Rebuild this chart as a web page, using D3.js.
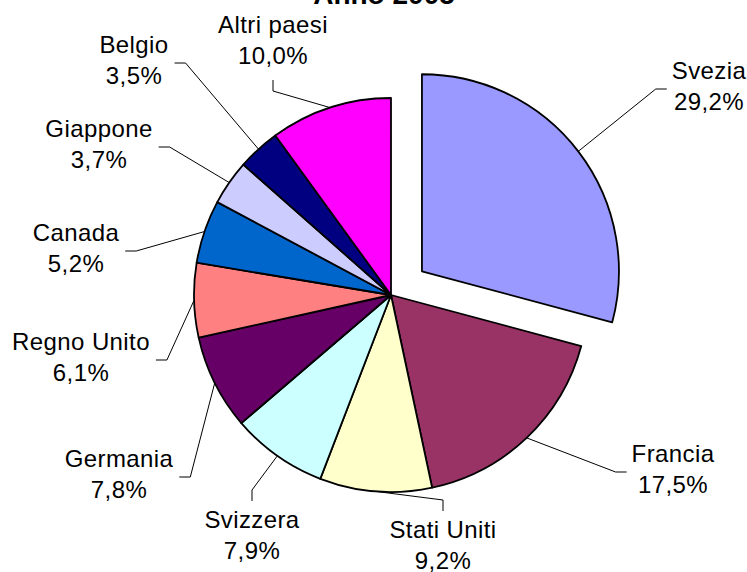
<!DOCTYPE html>
<html>
<head>
<meta charset="utf-8">
<script src="https://cdn.jsdelivr.net/npm/d3@7"></script>
<style>
  body { margin: 0; background: #fff; }
  text { font-family: "Liberation Sans", Arial, sans-serif; fill: #000; }
</style>
</head>
<body>
<div id="chart"></div>
<script>
// data
var titolo = "Anno 2005";
var paesi = ["Svezia", "Francia", "Stati Uniti", "Svizzera", "Germania",
             "Regno Unito", "Canada", "Giappone", "Belgio", "Altri paesi"];
var quote = [29.2, 17.5, 9.2, 7.9, 7.8, 6.1, 5.2, 3.7, 3.5, 10.0];
var colori = ["#9999ff", "#993366", "#ffffcc", "#ccffff", "#660066",
              "#ff8080", "#0066cc", "#ccccff", "#000080", "#ff00ff"];

// label layout: first-line baseline offset from pie centre, side the leader attaches to
var etichette = [
  {dx: 318, dy: -216, lato: "R"},
  {dx: 282, dy: 167, lato: "R"},
  {dx: 52, dy: 243, lato: "T"},
  {dx: -139, dy: 233, lato: "T"},
  {dx: -272, dy: 172, lato: "L"},
  {dx: -310, dy: 55, lato: "L"},
  {dx: -315, dy: -54, lato: "L"},
  {dx: -292, dy: -158, lato: "L"},
  {dx: -257, dy: -242, lato: "L"},
  {dx: -118, dy: -262, lato: "B"}
];

var width = 747, height = 572;
var cx = 391, cy = 295, r = 197, esploso = 39;

var svg = d3.select("#chart").append("svg")
    .attr("width", width)
    .attr("height", height);

// title (sits mostly above the visible area)
svg.append("text")
    .attr("x", 384)
    .attr("y", 4)
    .attr("text-anchor", "middle")
    .style("font-size", "28px")
    .style("font-weight", "bold")
    .text(titolo);

var dati = paesi.map(function(p, i) { return {nome: p, valore: quote[i], colore: colori[i], pos: etichette[i]}; });

var pie = d3.pie().sort(null).value(function(d) { return d.valore; });
var arc = d3.arc().innerRadius(0).outerRadius(r);
var bordo = d3.arc().innerRadius(r).outerRadius(r);
var fmt = function(v) { return d3.format(".1f")(v).replace(".", ",") + "%"; };

var g = svg.append("g").attr("transform", "translate(" + cx + "," + cy + ")");
var archi = pie(dati);

function spostamento(d, i) {
  if (i !== 0) return [0, 0];
  var a = (d.startAngle + d.endAngle) / 2;
  return [esploso * Math.sin(a), -esploso * Math.cos(a)];
}

g.selectAll("path.fetta")
    .data(archi)
  .enter().append("path")
    .attr("class", "fetta")
    .attr("transform", function(d, i) { var o = spostamento(d, i); return "translate(" + o[0] + "," + o[1] + ")"; })
    .attr("d", arc)
    .attr("fill", function(d) { return d.data.colore; })
    .attr("stroke", "#000")
    .attr("stroke-width", 1.8)
    .attr("stroke-linejoin", "round");

// labels
var lab = g.selectAll("g.etichetta")
    .data(archi)
  .enter().append("g")
    .attr("class", "etichetta");

lab.append("text")
    .attr("x", function(d) { return d.data.pos.dx; })
    .attr("y", function(d) { return d.data.pos.dy; })
    .attr("text-anchor", "middle")
    .style("font-size", "24px")
    .style("letter-spacing", "0.4px")
    .text(function(d) { return d.data.nome; });

lab.append("text")
    .attr("x", function(d) { return d.data.pos.dx; })
    .attr("y", function(d) { return d.data.pos.dy + 31; })
    .attr("text-anchor", "middle")
    .style("font-size", "24px")
    .style("letter-spacing", "0.4px")
    .text(function(d) { return fmt(d.data.valore); });

// leader lines
lab.each(function(d, i) {
  var el = d3.select(this);
  var w = 0;
  el.selectAll("text").each(function() { w = Math.max(w, this.getComputedTextLength()); });
  var p = d.data.pos, a, b;
  if (p.lato === "L") {
    a = [p.dx + w / 2 + 6, p.dy + 10]; b = [p.dx + w / 2 + 17, p.dy + 10];
  } else if (p.lato === "R") {
    a = [p.dx - w / 2 - 5, p.dy + 10]; b = [p.dx - w / 2 - 16, p.dy + 10];
  } else if (p.lato === "T") {
    a = [p.dx, p.dy - 27]; b = [p.dx, p.dy - 38];
  } else {
    a = [p.dx, p.dy + 47]; b = [p.dx, p.dy + 58];
  }
  var o = spostamento(d, i);
  var c = bordo.centroid(d);
  var s = [c[0] + o[0], c[1] + o[1]];
  el.append("path")
      .attr("d", d3.line()([a, b, s]))
      .attr("fill", "none")
      .attr("stroke", "#000")
      .attr("stroke-width", 1);
});
</script>
</body>
</html>
